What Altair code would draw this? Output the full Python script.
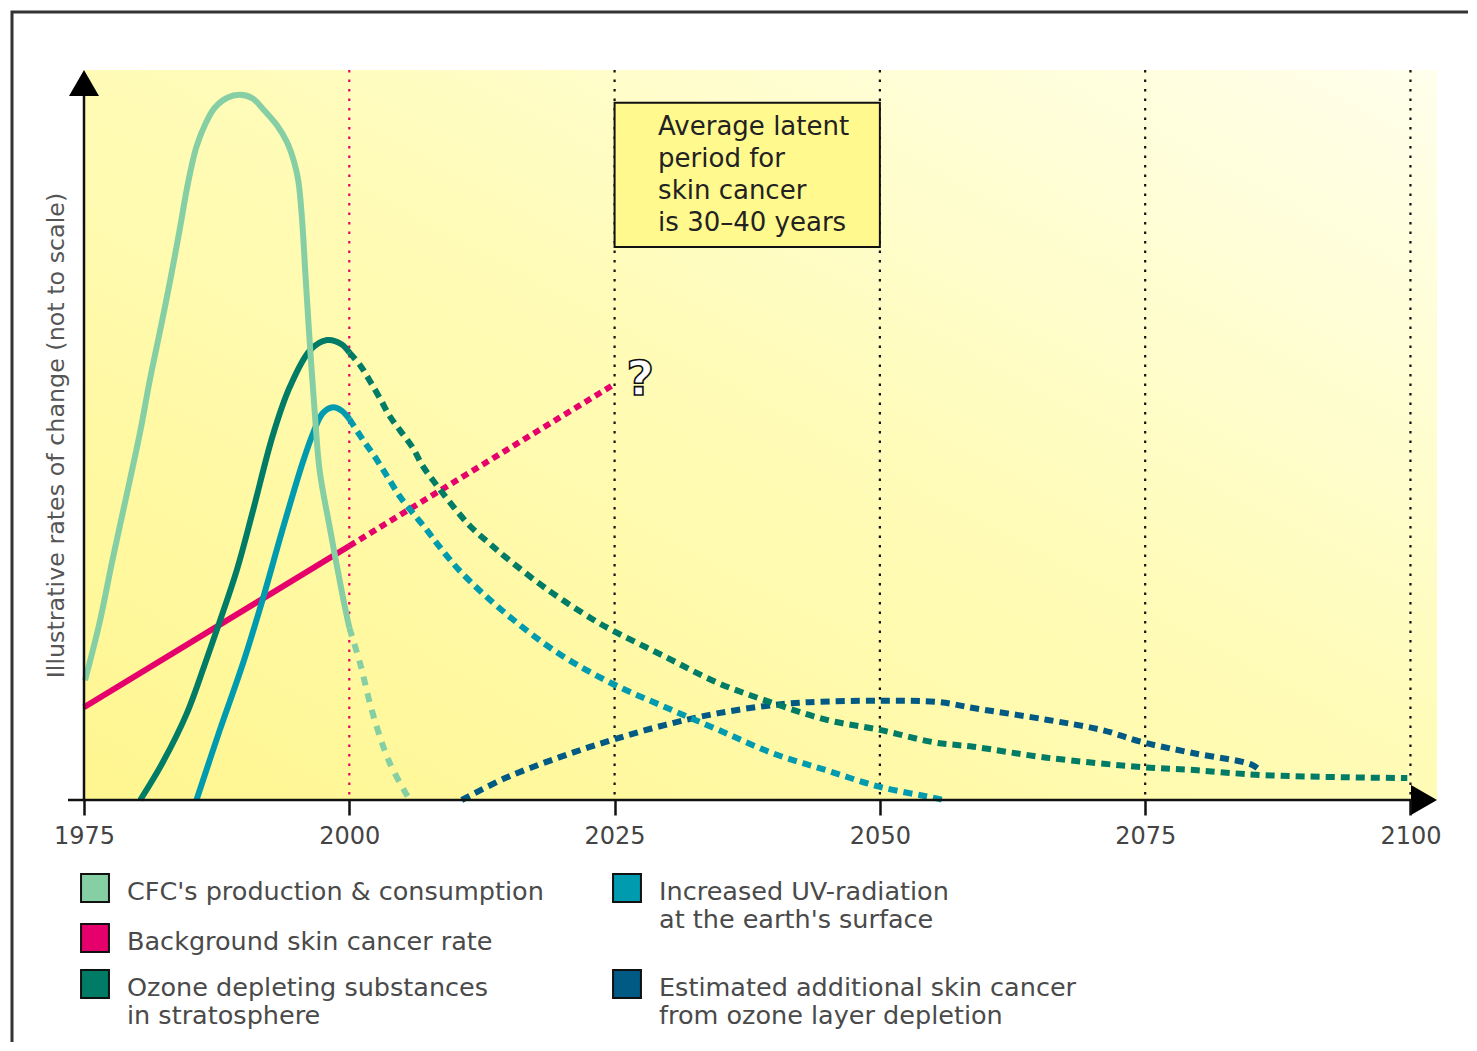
import altair as alt
import pandas as pd

FONT = "DejaVu Sans"

# ---------------- data ----------------
TICK_YEARS = [1975, 2000, 2025, 2050, 2075, 2100]
X_DOMAIN = [1975, 2102.5]
Y_DOMAIN = [0, 100]

cfc_years = [1975.1, 1976.5, 1977.7, 1979.05, 1980.3, 1981.2, 1982.2, 1983.1, 1984.0, 1984.8,
             1985.6, 1986.5, 1987.3, 1988.5, 1989.7, 1990.9, 1991.9, 1993.2, 1994.1, 1994.8,
             1995.2, 1995.55, 1995.9, 1996.3, 1996.75, 1997.2, 1998.2, 1999.3, 2000.0,
             2001.0, 2002.2, 2003.8, 2005.7]
cfc_values = [16.4, 24.5, 33.0, 42.0, 50.5, 57.5, 64.5, 71.0, 78.0, 84.5,
              89.5, 92.8, 94.8, 96.2, 96.6, 96.1, 94.6, 92.4, 90.2, 87.4,
              84.8, 79.5, 71.2, 62.1, 53.0, 45.2, 37.0, 28.5, 23.6,
              18.8, 11.9, 5.1, 0.0]

bg_years = [1975.0, 2000.0, 2024.8]
bg_values = [12.7, 34.8, 56.8]

ozone_years = [1980.3, 1982.4, 1984.7, 1986.6, 1987.8, 1989.4, 1990.9, 1992.8, 1994.4, 1996.3,
               1997.9, 1999.3, 2000.0,
               2001.0, 2001.9, 2002.9, 2003.8, 2004.8, 2006.0, 2006.9, 2008.3, 2009.8, 2011.4,
               2013.0, 2014.7, 2018.7, 2023.0, 2024.7, 2029.8,
               2034.8, 2039.9, 2044.9, 2050.0, 2055.1, 2058.8, 2065.7, 2074.8, 2079.6, 2086.2,
               2099.7]
ozone_values = [0.0, 5.1, 11.9, 19.5, 24.5, 31.5, 39.5, 50.0, 56.6, 61.6,
                63.0, 62.4, 61.3,
                59.6, 57.5, 55.0, 52.6, 50.6, 48.2, 45.8, 43.0, 40.2, 37.5,
                35.4, 33.3, 28.8, 24.7, 23.3, 19.6,
                16.0, 13.3, 11.0, 9.6, 7.9, 7.3, 5.8, 4.5, 4.1, 3.4,
                3.0]

uv_years = [1985.6, 1987.8, 1990.0, 1991.9, 1993.7, 1995.6, 1996.6, 1997.5, 1998.5, 1999.3,
            2000.0,
            2001.3, 2002.6, 2003.8, 2004.8, 2006.0, 2007.3, 2008.5, 2010.6, 2014.7, 2019.7,
            2024.7, 2029.8, 2034.8, 2039.9, 2044.9, 2050.0, 2055.1, 2056.0]
uv_values = [0.0, 9.6, 18.8, 27.8, 37.0, 46.2, 50.3, 53.0, 53.8, 53.3,
             52.2,
             49.3, 46.6, 43.8, 41.5, 39.3, 37.0, 34.7, 31.1, 25.6, 20.1,
             16.0, 12.7, 9.6, 6.4, 4.1, 1.8, 0.3, 0.0]

est_years = [2010.6, 2014.7, 2019.7, 2024.7, 2029.8, 2034.8, 2039.9, 2043.3, 2050.0, 2055.6,
             2058.8, 2065.7, 2070.9, 2074.8, 2079.6, 2085.1, 2086.0]
est_values = [0.0, 3.0, 5.8, 8.2, 10.3, 11.9, 13.0, 13.4, 13.6, 13.4,
              12.6, 11.0, 9.6, 7.9, 6.4, 4.8, 3.8]

SPLIT_YEAR = 2000  # solid up to here, dashed afterwards (projection)

series_names = ["CFC's production & consumption", "Background skin cancer rate",
                "Ozone depleting substances in stratosphere",
                "Increased UV-radiation at the earth's surface",
                "Estimated additional skin cancer from ozone layer depletion"]
series_colors = ["#86CFA4", "#E5006B", "#007C66", "#009BAE", "#005A84"]

legend_lines = [["CFC's production & consumption"],
                ["Background skin cancer rate"],
                ["Ozone depleting substances", "in stratosphere"],
                ["Increased UV-radiation", "at the earth's surface"],
                ["Estimated additional skin cancer", "from ozone layer depletion"]]

box_years = [2025, 2050]
box_values = [75.75, 95.5]
box_text = ["Average latent", "period for", "skin cancer", "is 30\u201340 years"]
box_text_year = 2029.1
box_text_values = [92.2, 87.8, 83.4, 79.0]

black_lines = [2025, 2050, 2075, 2100]
red_line = [2000]

question_year, question_value = 2027.4, 57.4

# ---------------- layout ----------------
W, H = 1353, 730
PAD = {"left": 76, "top": 62, "right": 31, "bottom": 242}

xscale = alt.Scale(domain=X_DOMAIN, nice=False, zero=False)
yscale = alt.Scale(domain=Y_DOMAIN, nice=False)
xaxis = alt.Axis(values=TICK_YEARS, format="d", title=None, domain=False, grid=False,
                 ticks=True, tickSize=15, tickWidth=2.5, tickColor="#111",
                 labelFont=FONT, labelFontSize=24, labelColor="#444", labelPadding=9,
                 labelFlush=False, zindex=1)
yaxis = alt.Axis(title="Illustrative rates of change (not to scale)", domain=False,
                 grid=False, ticks=False, labels=False, titleFont=FONT,
                 titleFontSize=23.8, titleFontWeight="normal", titleColor="#555",
                 titlePadding=16, zindex=1)


def X(field="year"):
    return alt.X(f"{field}:Q", scale=xscale, axis=xaxis)


def Y(field="value"):
    return alt.Y(f"{field}:Q", scale=yscale, axis=yaxis)


layers = []

# frame around the figure
layers.append(alt.Chart(pd.DataFrame({"a": [0]})).mark_rect(
    fill="white", fillOpacity=0, stroke="#333", strokeWidth=3).encode(
    x=alt.value(-72), x2=alt.value(1420), y=alt.value(-58), y2=alt.value(1100)))

# gradient background
bg = pd.DataFrame({"year": [X_DOMAIN[0]], "year2": [X_DOMAIN[1]],
                   "value": [Y_DOMAIN[0]], "value2": [Y_DOMAIN[1]]})
layers.append(alt.Chart(bg).mark_rect(
    fill=alt.Gradient(gradient="linear", x1=0, y1=1, x2=1, y2=0,
                      stops=[alt.GradientStop(offset=0, color="#FFF690"),
                             alt.GradientStop(offset=0.55, color="#FFFCBA"),
                             alt.GradientStop(offset=1, color="#FFFFEC")])).encode(
    x=X(), x2="year2", y=Y(), y2="value2"))

# dotted verticals
layers.append(alt.Chart(pd.DataFrame({"year": black_lines})).mark_rule(
    color="#111", strokeWidth=2.2, strokeDash=[2.5, 7]).encode(x=X()))
layers.append(alt.Chart(pd.DataFrame({"year": red_line})).mark_rule(
    color="#E5006B", strokeWidth=2.2, strokeDash=[2.5, 7]).encode(x=X()))

# latent-period box
box = pd.DataFrame({"year": [box_years[0]], "year2": [box_years[1]],
                    "value": [box_values[0]], "value2": [box_values[1]]})
layers.append(alt.Chart(box).mark_rect(fill="#FFF98E", stroke="#111", strokeWidth=2).encode(
    x=X(), x2="year2", y=Y(), y2="value2"))
box_lines = pd.DataFrame({"year": [box_text_year] * 4, "value": box_text_values,
                          "t": box_text})
layers.append(alt.Chart(box_lines).mark_text(
    align="left", baseline="middle", font=FONT, fontSize=26, color="#222").encode(
    x=X(), y=Y(), text="t:N"))


def build(name, years, values):
    solid = [{"series": name, "year": yr, "value": v}
             for yr, v in zip(years, values) if yr <= SPLIT_YEAR]
    dashed = [{"series": name, "year": yr, "value": v}
              for yr, v in zip(years, values) if yr > SPLIT_YEAR]
    if solid:
        dashed = [dict(solid[-1])] + dashed
    return pd.DataFrame(solid), pd.DataFrame(dashed)


color_scale = alt.Scale(domain=series_names, range=series_colors)


def line_layer(df, dash, width=6):
    props = dict(strokeWidth=width, interpolate="catmull-rom", strokeCap="butt")
    if dash:
        props["strokeDash"] = dash
    return alt.Chart(df).mark_line(**props).encode(
        x=X(), y=Y(), color=alt.Color("series:N", scale=color_scale, legend=None))


specs = [
    (series_names[1], bg_years, bg_values, [7, 5], 6),
    (series_names[4], est_years, est_values, [9, 6], 6),
    (series_names[3], uv_years, uv_values, [9, 6], 6),
    (series_names[2], ozone_years, ozone_values, [9, 6], 6),
    (series_names[0], cfc_years, cfc_values, [9, 8], 6),
]
for name, yrs, vals, dash, w in specs:
    solid, dashed = build(name, yrs, vals)
    if len(solid):
        layers.append(line_layer(solid, None, w))
    if len(dashed):
        layers.append(line_layer(dashed, dash, w))

# question mark
layers.append(alt.Chart(pd.DataFrame({"year": [question_year], "value": [question_value],
                                      "t": ["?"]})).mark_text(
    font=FONT, fontSize=48, fontWeight="bold", fill="white", stroke="#111",
    strokeWidth=1.6, baseline="middle", align="center").encode(x=X(), y=Y(), text="t:N"))

# axis lines with arrowheads
ax = pd.DataFrame({"a": [0]})
layers.append(alt.Chart(ax).mark_rule(color="#111", strokeWidth=2.5).encode(
    x=alt.value(-16), x2=alt.value(1330), y=alt.value(H)))
layers.append(alt.Chart(ax).mark_rule(color="#111", strokeWidth=2.5).encode(
    x=alt.value(0), y=alt.value(H), y2=alt.value(20)))
layers.append(alt.Chart(ax).mark_point(shape="triangle-up", filled=True, size=900,
                                       color="#000", opacity=1).encode(
    x=alt.value(0), y=alt.value(13)))
layers.append(alt.Chart(ax).mark_point(shape="triangle-right", filled=True, size=900,
                                       color="#000", opacity=1).encode(
    x=alt.value(1340), y=alt.value(H)))

# legend (two columns, drawn by hand)
legend_pos = [(0, 0), (0, 1), (0, 2), (1, 0), (1, 2)]
row_y = [818, 868, 914]
col_x = [11, 543]
for (col, row), color, lines in zip(legend_pos, series_colors, legend_lines):
    cy = row_y[row]
    layers.append(alt.Chart(ax).mark_square(size=780, fill=color, stroke="#111",
                                            strokeWidth=2, opacity=1).encode(
        x=alt.value(col_x[col]), y=alt.value(cy)))
    for i, line in enumerate(lines):
        layers.append(alt.Chart(ax).mark_text(
            align="left", baseline="middle", font=FONT, fontSize=25.5,
            color="#4a4a4a").encode(
            x=alt.value(col_x[col] + 32), y=alt.value(cy + 4 + i * 28),
            text=alt.value(line)))

chart = alt.layer(*layers).properties(
    width=W, height=H, padding=PAD,
    autosize=alt.AutoSizeParams(type="none"),
    background="white",
).configure_view(stroke=None)

chart.save("out.html", embed_options={"renderer": "svg", "actions": False})
